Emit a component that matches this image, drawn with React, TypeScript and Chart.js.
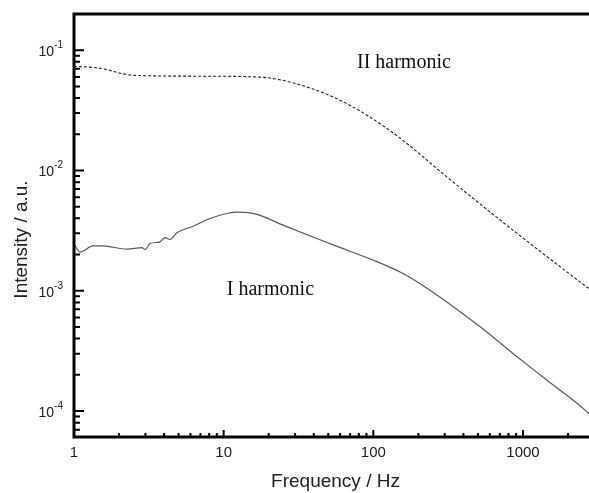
import React, { useEffect, useRef } from "react";
import { Chart, registerables } from "chart.js";

Chart.register(...registerables);

// II harmonic (dashed)
const freqII = [1, 1.49, 2.48, 6.95, 17.5, 27.7, 53.7, 90.7, 150.7, 311, 857, 2678, 2761];
const intII = [0.0736, 0.0708, 0.0619, 0.0608, 0.0597, 0.0544, 0.0409, 0.0288, 0.0186, 0.0088, 0.00319, 0.00107, 0.00104];

// I harmonic (solid)
const freqI = [1, 1.097, 1.34, 1.56, 2.26, 2.85, 2.98, 3.22, 3.76, 4.06, 4.38, 4.87, 6.24, 8.1, 10.5, 12.3, 16.7, 24.9, 41.9, 69.8, 99.4, 158, 239, 517, 857, 1440, 2680, 2761];
const intI = [0.00245, 0.0021, 0.00236, 0.00236, 0.00222, 0.00228, 0.0022, 0.00247, 0.00255, 0.00277, 0.00267, 0.00303, 0.00344, 0.00399, 0.00439, 0.0045, 0.00431, 0.00351, 0.00272, 0.00213, 0.0018, 0.00139, 0.00101, 0.000501, 0.000301, 0.000181, 0.0000984, 0.0000945];

const xTickLabels = [1, 10, 100, 1000];
const yDecadeExps = [-4, -3, -2, -1];
const xMin = 1;
const xMax = 2761;
const yMin = 6.08e-5;
const yMax = 0.2;
const xTitle = "Frequency / Hz";
const yTitle = "Intensity / a.u.";

const annotations = [
  { text: "II harmonic", x: 77.8, y: 0.0708 },
  { text: "I harmonic", x: 10.5, y: 0.000918 },
];

const SANS = "'Liberation Sans', Arial, sans-serif";
const SERIF = "'Liberation Serif', 'Times New Roman', serif";

const decoPlugin = {
  id: "deco",
  afterDraw(chart: any) {
    const { ctx, chartArea: a } = chart;
    const xs = chart.scales.x;
    const ys = chart.scales.y;
    ctx.save();
    ctx.strokeStyle = "#000";
    ctx.lineCap = "butt";
    // axis lines
    ctx.lineWidth = 3;
    ctx.beginPath();
    ctx.moveTo(a.left - 1.5, a.top);
    ctx.lineTo(a.right + 10, a.top);
    ctx.moveTo(a.left, a.top - 1.5);
    ctx.lineTo(a.left, a.bottom + 1.5);
    ctx.moveTo(a.left - 1.5, a.bottom);
    ctx.lineTo(a.right + 10, a.bottom);
    ctx.stroke();
    // y ticks
    ctx.lineWidth = 2;
    ctx.beginPath();
    for (let d = -5; d <= 0; d++) {
      for (let m = 1; m <= 9; m++) {
        const v = m * Math.pow(10, d);
        if (v < yMin || v > yMax) continue;
        const py = ys.getPixelForValue(v);
        const len = m === 1 ? 10 : 6;
        ctx.moveTo(a.left, py);
        ctx.lineTo(a.left + len, py);
      }
    }
    // x ticks
    for (let d = 0; d <= 4; d++) {
      for (let m = 1; m <= 9; m++) {
        const v = m * Math.pow(10, d);
        if (v <= xMin || v > xMax) continue;
        const px = xs.getPixelForValue(v);
        const len = m === 1 ? 7 : 4;
        ctx.moveTo(px, a.bottom);
        ctx.lineTo(px, a.bottom - len);
      }
    }
    ctx.stroke();
    // y tick labels with superscripts
    ctx.fillStyle = "#222";
    ctx.textBaseline = "alphabetic";
    for (const e of yDecadeExps) {
      const py = ys.getPixelForValue(Math.pow(10, e));
      ctx.font = `10px ${SANS}`;
      const expText = String(e);
      const ew = ctx.measureText(expText).width;
      ctx.font = `14px ${SANS}`;
      const bw = ctx.measureText("10").width;
      const right = a.left - 11;
      ctx.textAlign = "left";
      ctx.fillText("10", right - ew - bw, py + 6);
      ctx.font = `10px ${SANS}`;
      ctx.fillText(expText, right - ew, py - 2);
    }
    // axis titles
    ctx.font = `19px ${SANS}`;
    ctx.fillStyle = "#222";
    ctx.textAlign = "center";
    ctx.fillText(xTitle, (a.left + a.right) / 2 + 4, 487);
    ctx.save();
    ctx.translate(27, (a.top + a.bottom) / 2 + 14);
    ctx.rotate(-Math.PI / 2);
    ctx.fillText(yTitle, 0, 0);
    ctx.restore();
    // annotations
    ctx.fillStyle = "#111";
    ctx.font = `20px ${SERIF}`;
    ctx.textAlign = "left";
    for (const an of annotations) {
      ctx.fillText(an.text, xs.getPixelForValue(an.x), ys.getPixelForValue(an.y));
    }
    ctx.restore();
  },
};

export default function App() {
  const ref = useRef<HTMLCanvasElement | null>(null);
  useEffect(() => {
    document.body.style.margin = "0";
    document.body.style.overflow = "hidden";
    const canvas = ref.current;
    if (!canvas) return;
    const chart = new Chart(canvas, {
      type: "line",
      data: {
        datasets: [
          {
            label: "II harmonic",
            data: freqII.map((f, i) => ({ x: f, y: intII[i] })),
            borderColor: "#222",
            borderWidth: 1.1,
            borderDash: [3, 2],
            pointRadius: 0,
            cubicInterpolationMode: "monotone",
            fill: false,
          },
          {
            label: "I harmonic",
            data: freqI.map((f, i) => ({ x: f, y: intI[i] })),
            borderColor: "#5a5a5a",
            borderWidth: 1.2,
            pointRadius: 0,
            cubicInterpolationMode: "monotone",
            fill: false,
          },
        ],
      },
      options: {
        animation: false,
        responsive: false,
        maintainAspectRatio: false,
        layout: { padding: { top: 14, right: 0, left: 0, bottom: 0 } },
        plugins: { legend: { display: false }, tooltip: { enabled: false } },
        scales: {
          x: {
            type: "logarithmic",
            min: xMin,
            max: xMax,
            grid: { display: false, drawTicks: false },
            border: { display: false },
            afterBuildTicks: (s: any) => {
              s.ticks = xTickLabels.map((v) => ({ value: v }));
            },
            afterFit: (s: any) => {
              s.height = 56;
            },
            ticks: {
              autoSkip: false,
              maxRotation: 0,
              padding: 7,
              color: "#222",
              font: { size: 15, family: SANS },
              callback: (v: any) => String(v),
            },
            title: { display: false },
          },
          y: {
            type: "logarithmic",
            min: yMin,
            max: yMax,
            grid: { display: false, drawTicks: false },
            border: { display: false },
            ticks: { display: false },
            afterFit: (s: any) => {
              s.width = 74;
            },
            title: { display: false },
          },
        },
      },
      plugins: [decoPlugin],
    } as any);
    return () => chart.destroy();
  }, []);
  return (
    <div style={{ position: "absolute", left: 0, top: 0, width: 589, height: 493 }}>
      <canvas ref={ref} width={589} height={493} style={{ display: "block" }} />
    </div>
  );
}
